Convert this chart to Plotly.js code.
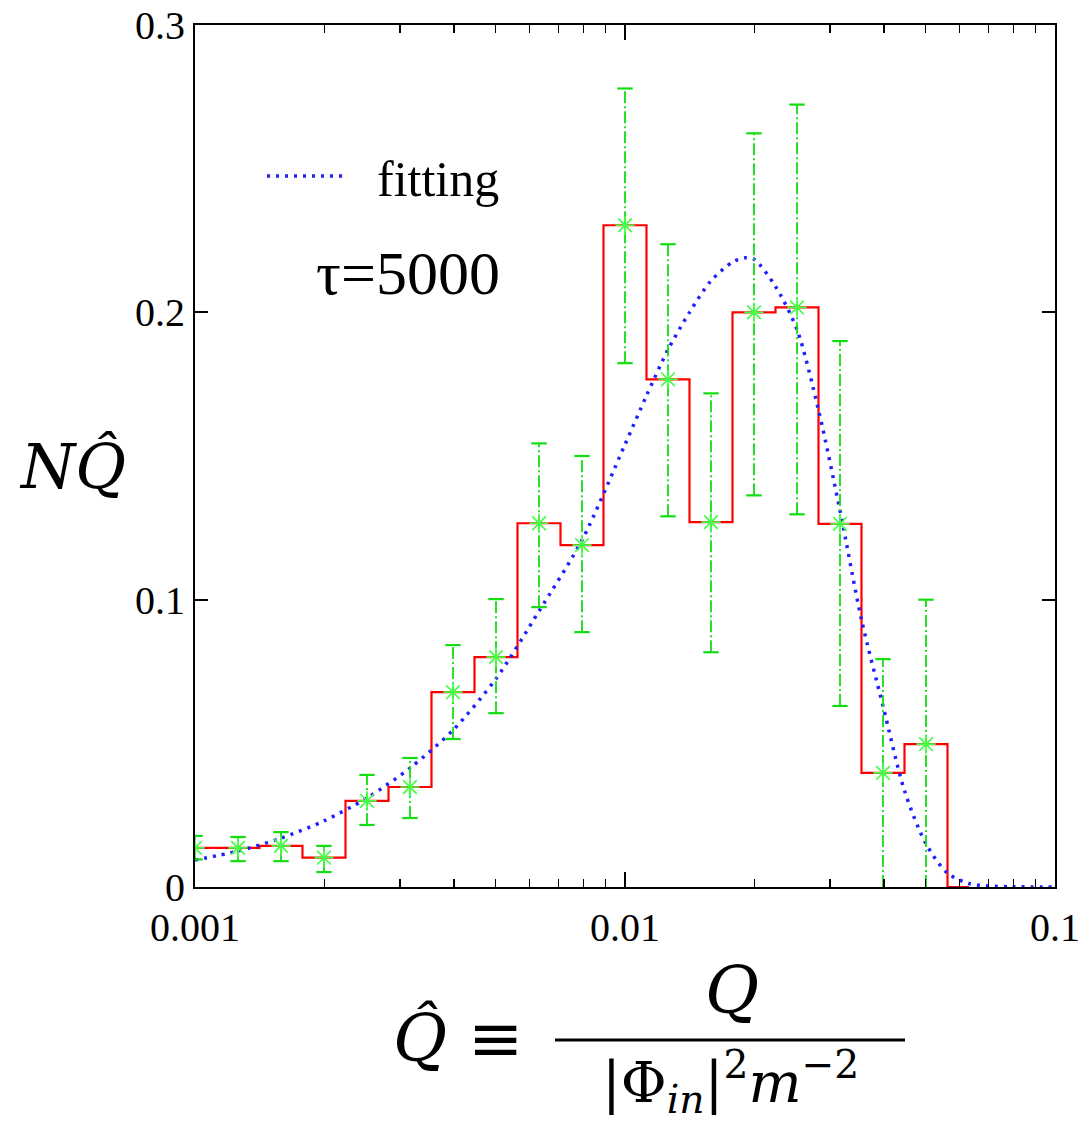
<!DOCTYPE html>
<html>
<head>
<meta charset="utf-8">
<script src="https://cdn.plot.ly/plotly-3.0.1.min.js"></script>
<style>html,body{margin:0;padding:0;background:#fff;}#chart{width:1083px;height:1128px;}</style>
</head>
<body>
<div id="chart"></div>
<script>
// Bin centres (Q-hat) and histogram values N(Q-hat)
const binX = [0.001, 0.001259, 0.001585, 0.001995, 0.002512, 0.003162, 0.003981, 0.005012, 0.00631,
              0.007943, 0.01, 0.012589, 0.015849, 0.019953, 0.025119, 0.031623, 0.039811, 0.050119];
const binY = [0.0136, 0.0136, 0.0143, 0.0102, 0.0300, 0.0348, 0.0678, 0.0800, 0.1266,
              0.1190, 0.2303, 0.1767, 0.1270, 0.2000, 0.2017, 0.1264, 0.0397, 0.0497];
// Error bar ends
const errLow  = [0.0096, 0.0090, 0.0090, 0.0052, 0.0216, 0.0240, 0.0515, 0.0605, 0.0974,
                 0.0887, 0.1823, 0.1290, 0.0817, 0.1363, 0.1297, 0.0630, 0.0, 0.0];
const errHigh = [0.0178, 0.0174, 0.0191, 0.0143, 0.0390, 0.0449, 0.0842, 0.1002, 0.1544,
                 0.1500, 0.2779, 0.2237, 0.1718, 0.2623, 0.2723, 0.1900, 0.0793, 0.1000];
// Fitting curve
const fitX = [0.001, 0.001259, 0.001585, 0.001995, 0.002512, 0.003162, 0.003981, 0.005012, 0.00631,
              0.007943, 0.01, 0.01122, 0.012589, 0.014125, 0.015849, 0.017783, 0.019055, 0.019953,
              0.022387, 0.025119, 0.028184, 0.031623, 0.035481, 0.039811, 0.044668, 0.050119,
              0.056234, 0.063096, 0.070795, 0.079433, 0.1];
const fitY = [0.0094, 0.0125, 0.0170, 0.0230, 0.0310, 0.0414, 0.0546, 0.0725, 0.0960,
              0.1207, 0.1540, 0.1710, 0.1870, 0.2000, 0.2110, 0.2175, 0.2190, 0.2185,
              0.2090, 0.1940, 0.1660, 0.1310, 0.0930, 0.0630, 0.0335, 0.0150,
              0.0048, 0.0012, 0.0003, 0.0001, 0.0];
const xTickVals = [0.001, 0.01, 0.1];
const xTickText = ['0.001', '0.01', '0.1'];
const xMinorVals = [0.002, 0.003, 0.004, 0.005, 0.006, 0.007, 0.008, 0.009,
                    0.02, 0.03, 0.04, 0.05, 0.06, 0.07, 0.08, 0.09];
const yTickVals = [0, 0.1, 0.2, 0.3];
const yTickText = ['0', '0.1', '0.2', '0.3'];
const legendName = 'fitting';
const tauLabel = 'τ=5000';

// derived traces
const stepRatio = binX[1] / binX[0];
const histX = binX.concat([binX[binX.length - 1] * stepRatio]);
const histY = binY.concat([0]);

const barX = [], barY = [];
binX.forEach((x, i) => { barX.push(x, x, null); barY.push(errLow[i], errHigh[i], null); });
const capX = [], capY = [];
binX.forEach((x, i) => {
  if (errLow[i] > 0) { capX.push(x); capY.push(errLow[i]); }
  capX.push(x); capY.push(errHigh[i]);
});

const serif = '"Liberation Serif", "Times New Roman", Times, serif';
const mathFont = '"DejaVu Serif", "Liberation Serif", serif';
const green = '#11dd11';

const traces = [
  { x: histX, y: histY, type: 'scatter', mode: 'lines', line: { shape: 'hvh', color: '#ff0000', width: 2.2 },
    showlegend: false, hoverinfo: 'skip' },
  { x: fitX, y: fitY, type: 'scatter', mode: 'lines', name: '\u00a0\u00a0' + legendName,
    line: { shape: 'spline', smoothing: 0.8, color: '#2020ff', width: 3.5, dash: '3px,6px' }, showlegend: true },
  { x: barX, y: barY, type: 'scatter', mode: 'lines', line: { color: green, width: 1.8, dash: '12px,3px,2px,3px' },
    showlegend: false, hoverinfo: 'skip' },
  { x: capX, y: capY, type: 'scatter', mode: 'markers',
    marker: { symbol: 'line-ew-open', size: 11, color: green, line: { color: green, width: 2.2 } },
    showlegend: false, hoverinfo: 'skip' },
  { x: binX, y: binY, type: 'scatter', mode: 'markers',
    marker: { symbol: 'asterisk-open', size: 16, color: '#44ff44', line: { color: '#44ff44', width: 1.7 } },
    showlegend: false }
];

const px = p => (p - 195) / 860;
const py = p => (887 - p) / 862;

const layout = {
  width: 1083, height: 1128,
  margin: { l: 195, r: 28, t: 25, b: 241 },
  paper_bgcolor: '#fff', plot_bgcolor: '#fff',
  font: { family: serif, color: '#000' },
  showlegend: true,
  legend: { x: px(262), y: py(176), xanchor: 'left', yanchor: 'middle', bgcolor: 'rgba(0,0,0,0)',
            font: { family: serif, size: 50, color: '#000' }, itemwidth: 80 },
  xaxis: {
    type: 'log', range: [-3, -1], tickmode: 'array', tickvals: xTickVals, ticktext: xTickText,
    ticks: 'inside', ticklen: 15, tickwidth: 2, tickcolor: '#000', ticklabelstandoff: 4,
    minor: { tickmode: 'array', tickvals: xMinorVals, ticks: 'inside', ticklen: 8, tickwidth: 1.5, tickcolor: '#000' },
    showline: true, linecolor: '#000', linewidth: 2, mirror: 'allticks', showgrid: false, zeroline: false,
    tickfont: { family: serif, size: 40, color: '#000' }
  },
  yaxis: {
    range: [0, 0.3], tickmode: 'array', tickvals: yTickVals, ticktext: yTickText,
    ticks: 'inside', ticklen: 13, tickwidth: 2, tickcolor: '#000',
    showline: true, linecolor: '#000', linewidth: 2, mirror: 'allticks', showgrid: false, zeroline: false,
    tickfont: { family: serif, size: 40, color: '#000' }
  },
  annotations: [
    { text: tauLabel, xref: 'paper', yref: 'paper', x: px(408), y: py(273), xanchor: 'center', yanchor: 'middle',
      showarrow: false, font: { family: serif, size: 62, color: '#000' } },
    { text: '<i>NQ̂</i>', xref: 'paper', yref: 'paper', x: px(72), y: py(466), xanchor: 'center', yanchor: 'middle',
      showarrow: false, font: { family: mathFont, size: 62, color: '#000' } },
    { text: '<i>Q̂</i> ≡', xref: 'paper', yref: 'paper', x: px(458), y: py(1038), xanchor: 'center', yanchor: 'middle',
      showarrow: false, font: { family: mathFont, size: 66, color: '#000' } },
    { text: '<i>Q</i>', xref: 'paper', yref: 'paper', x: px(732), y: py(990), xanchor: 'center', yanchor: 'middle',
      showarrow: false, font: { family: mathFont, size: 66, color: '#000' } },
    { text: '|Φ<sub><i>in</i></sub>|<sup>2</sup><i>m</i><sup>−2</sup>', xref: 'paper', yref: 'paper', x: px(730), y: py(1082),
      xanchor: 'center', yanchor: 'middle', showarrow: false, font: { family: mathFont, size: 56, color: '#000' } }
  ],
  shapes: [
    { type: 'line', xref: 'paper', yref: 'paper', x0: px(555), x1: px(905), y0: py(1040), y1: py(1040),
      line: { color: '#000', width: 3 } }
  ]
};

Plotly.newPlot('chart', traces, layout, { staticPlot: true, displayModeBar: false });
</script>
</body>
</html>
